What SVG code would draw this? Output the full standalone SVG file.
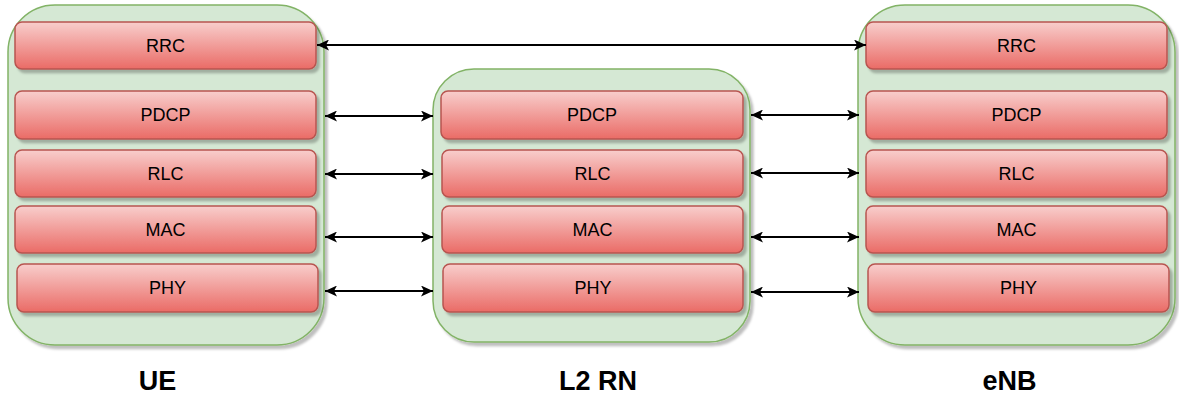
<svg xmlns="http://www.w3.org/2000/svg" width="1179" height="399" viewBox="0 0 1179 399">
  <defs>
    <linearGradient id="layerFill" x1="0" y1="0" x2="0" y2="1">
      <stop offset="0" stop-color="#f8cecc"/>
      <stop offset="1" stop-color="#ea6b66"/>
    </linearGradient>
    <filter id="shadow" x="-5%" y="-5%" width="115%" height="120%">
      <feDropShadow dx="3" dy="3.5" stdDeviation="1" flood-color="#000" flood-opacity="0.25"/>
    </filter>
    <marker id="arrow" viewBox="0 0 12 11" refX="12" refY="5.5" markerWidth="12" markerHeight="11" markerUnits="userSpaceOnUse" orient="auto-start-reverse">
      <path d="M0,0 L12,5.5 L0,11 L3,5.5 Z" fill="#000"/>
    </marker>
  </defs>
  <style>
    .container { fill: #d5e8d4; stroke: #82b366; stroke-width: 1.5; filter: url(#shadow); }
    .layer { fill: url(#layerFill); stroke: #b85450; stroke-width: 1.5; filter: url(#shadow); }
    .layer-text { font-family: "Liberation Sans", Arial, sans-serif; font-size: 18px; fill: #000; text-anchor: middle; }
    .title { font-family: "Liberation Sans", Arial, sans-serif; font-size: 27px; font-weight: bold; fill: #000; text-anchor: middle; }
    .link { stroke: #000; stroke-width: 2; fill: none; marker-start: url(#arrow); marker-end: url(#arrow); }
  </style>

  <!-- UE protocol stack -->
  <g id="ue">
    <rect class="container" x="8" y="5" width="316" height="340" rx="47" ry="47"/>
    <g id="ue-rrc">
      <rect class="layer" x="15" y="22" width="301" height="47" rx="7" ry="7"/>
      <text class="layer-text" x="165.5" y="52">RRC</text>
    </g>
    <g id="ue-pdcp">
      <rect class="layer" x="15" y="91" width="301" height="48" rx="7" ry="7"/>
      <text class="layer-text" x="165.5" y="121">PDCP</text>
    </g>
    <g id="ue-rlc">
      <rect class="layer" x="15" y="150" width="301" height="47" rx="7" ry="7"/>
      <text class="layer-text" x="165.5" y="180">RLC</text>
    </g>
    <g id="ue-mac">
      <rect class="layer" x="15" y="206" width="301" height="47" rx="7" ry="7"/>
      <text class="layer-text" x="165.5" y="236">MAC</text>
    </g>
    <g id="ue-phy">
      <rect class="layer" x="17" y="264" width="301" height="48" rx="7" ry="7"/>
      <text class="layer-text" x="167.5" y="294">PHY</text>
    </g>
    <text class="title" x="157.5" y="390">UE</text>
  </g>

  <!-- L2 relay node protocol stack -->
  <g id="l2rn">
    <rect class="container" x="433" y="69" width="317" height="273" rx="41" ry="41"/>
    <g id="l2rn-pdcp">
      <rect class="layer" x="441" y="91" width="302" height="48" rx="7" ry="7"/>
      <text class="layer-text" x="592" y="121">PDCP</text>
    </g>
    <g id="l2rn-rlc">
      <rect class="layer" x="442" y="150" width="301" height="47" rx="7" ry="7"/>
      <text class="layer-text" x="592.5" y="180">RLC</text>
    </g>
    <g id="l2rn-mac">
      <rect class="layer" x="442" y="206" width="301" height="47" rx="7" ry="7"/>
      <text class="layer-text" x="592.5" y="236">MAC</text>
    </g>
    <g id="l2rn-phy">
      <rect class="layer" x="443" y="264" width="300" height="48" rx="7" ry="7"/>
      <text class="layer-text" x="593" y="294">PHY</text>
    </g>
    <text class="title" x="598" y="390">L2 RN</text>
  </g>

  <!-- eNB protocol stack -->
  <g id="enb">
    <rect class="container" x="858" y="5" width="317" height="340" rx="47" ry="47"/>
    <g id="enb-rrc">
      <rect class="layer" x="866" y="22" width="301" height="47" rx="7" ry="7"/>
      <text class="layer-text" x="1016.5" y="52">RRC</text>
    </g>
    <g id="enb-pdcp">
      <rect class="layer" x="866" y="91" width="301" height="48" rx="7" ry="7"/>
      <text class="layer-text" x="1016.5" y="121">PDCP</text>
    </g>
    <g id="enb-rlc">
      <rect class="layer" x="866" y="150" width="301" height="47" rx="7" ry="7"/>
      <text class="layer-text" x="1016.5" y="180">RLC</text>
    </g>
    <g id="enb-mac">
      <rect class="layer" x="866" y="206" width="301" height="47" rx="7" ry="7"/>
      <text class="layer-text" x="1016.5" y="236">MAC</text>
    </g>
    <g id="enb-phy">
      <rect class="layer" x="868" y="264" width="301" height="48" rx="7" ry="7"/>
      <text class="layer-text" x="1018.5" y="294">PHY</text>
    </g>
    <text class="title" x="1009.5" y="390">eNB</text>
  </g>

  <!-- peer-to-peer links between layers -->
  <g id="connectors">
    <line class="link" x1="317" y1="45" x2="866" y2="45"/>
    <line class="link" x1="325" y1="116" x2="433" y2="116"/>
    <line class="link" x1="325" y1="174" x2="433" y2="174"/>
    <line class="link" x1="325" y1="237" x2="433" y2="237"/>
    <line class="link" x1="325" y1="291" x2="433" y2="291"/>
    <line class="link" x1="751" y1="115" x2="859" y2="115"/>
    <line class="link" x1="751" y1="173" x2="859" y2="173"/>
    <line class="link" x1="751" y1="237" x2="859" y2="237"/>
    <line class="link" x1="751" y1="292" x2="859" y2="292"/>
  </g>
</svg>
